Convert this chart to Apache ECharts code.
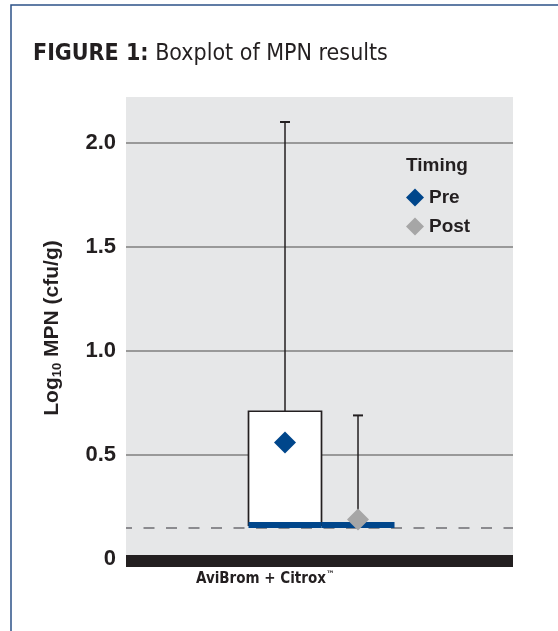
<!DOCTYPE html>
<html><head><meta charset="utf-8">
<script src="https://cdn.jsdelivr.net/npm/echarts@6/dist/echarts.min.js"></script>
<style>html,body{margin:0;padding:0;background:#fff}#c{width:558px;height:631px}</style>
</head><body><div id="c"></div>
<script>
// ---- data ----
const groups = ['Pre', 'Post'];
const categoryLabel = 'AviBrom + Citrox™';
// box statistics per group: [min, Q1, median, Q3, max]
const preStats = [0.163, 0.163, 0.163, 0.71, 2.10];
const postStats = [0.163, 0.163, 0.163, 0.163, 0.69];
const means = [0.56, 0.19];
const detectionLimit = 0.152;
const yTickStep = 0.5;

// ---- style ----
const INK = '#231f20';
const BLUE = '#00468b';
const GREY = '#a6a6a6';
const SANS = '"Liberation Sans", Arial, sans-serif';
const NARROW = '"Liberation Sans Narrow", "DejaVu Sans Condensed", "Liberation Sans", sans-serif';

const boxData = [preStats, postStats].map((s, i) => [i].concat(s));
const catRich = categoryLabel.split('™').map(p => p ? '{c|' + p + '}' : '').join('{tm|™}');

const chart = echarts.init(document.getElementById('c'), null, {renderer: 'canvas'});
chart.setOption({
  animation: false,
  backgroundColor: '#ffffff',
  grid: {left: 126, top: 97, width: 387, height: 462, show: true, backgroundColor: '#e6e7e8', borderWidth: 0},
  xAxis: {
    type: 'value', min: -2.178, max: 3.123,
    offset: 2,
    axisLine: {show: true, onZero: false, lineStyle: {color: INK, width: 12, cap: 'butt'}},
    axisTick: {show: false}, axisLabel: {show: false}, splitLine: {show: false}
  },
  yAxis: {
    type: 'value', min: 0, max: 2.22, interval: yTickStep,
    name: '{a|Log}{s|10}{a| MPN (cfu/g)}',
    nameLocation: 'middle', nameRotate: 90, nameGap: 62,
    nameTextStyle: {
      rich: {
        a: {fontFamily: SANS, fontWeight: 'bold', fontSize: 21, color: INK, lineHeight: 24},
        s: {fontFamily: SANS, fontWeight: 'bold', fontSize: 13, color: INK, lineHeight: 13, verticalAlign: 'bottom'}
      }
    },
    axisLine: {show: false}, axisTick: {show: false},
    axisLabel: {
      margin: 10, fontFamily: SANS, fontWeight: 'bold', fontSize: 22, color: INK,
      showMaxLabel: false,
      formatter: v => (Math.abs(v / yTickStep - Math.round(v / yTickStep)) > 1e-6) ? '' : (v === 0 ? '0' : v.toFixed(1))
    },
    splitLine: {show: true, showMinLine: false, showMaxLine: false, lineStyle: {color: '#7f7f7f', width: 1.5}}
  },
  legend: {
    data: groups, orient: 'vertical', left: 406, top: 188, padding: 0,
    itemWidth: 18, itemHeight: 18, itemGap: 10, icon: 'diamond',
    selectedMode: false,
    textStyle: {fontFamily: SANS, fontWeight: 'bold', fontSize: 19, color: INK}
  },
  series: [
    {
      type: 'custom', name: 'box', z: 2,
      data: boxData,
      encode: {x: 0, y: [1, 2, 3, 4, 5]},
      renderItem: (params, api) => {
        const i = api.value(0);
        const lo = api.value(1), q1 = api.value(2), med = api.value(3), q3 = api.value(4), hi = api.value(5);
        const half = api.size([1, 0])[0] * 0.5;
        const pLo = api.coord([i, lo]), pQ1 = api.coord([i, q1]), pMed = api.coord([i, med]);
        const pQ3 = api.coord([i, q3]), pHi = api.coord([i, hi]);
        const x = pQ1[0];
        const lineStyle = {stroke: INK, lineWidth: 1.5};
        const children = [
          {type: 'line', shape: {x1: x, y1: pQ3[1], x2: x, y2: pHi[1]}, style: lineStyle},
          {type: 'line', shape: {x1: x - 5, y1: pHi[1], x2: x + 5, y2: pHi[1]}, style: {stroke: INK, lineWidth: 2}},
          {type: 'line', shape: {x1: x, y1: pLo[1], x2: x, y2: pQ1[1]}, style: lineStyle}
        ];
        if (q3 > q1) {
          children.push({type: 'rect', shape: {x: x - half, y: pQ3[1], width: 2 * half, height: pQ1[1] - pQ3[1]},
            style: {fill: '#ffffff', stroke: INK, lineWidth: 1.7}});
        }
        children.push({type: 'rect', shape: {x: x - half, y: pMed[1] - 3, width: 2 * half, height: 6}, style: {fill: BLUE}});
        return {type: 'group', children};
      },
      markLine: {
        silent: true, symbol: 'none', z: 1,
        label: {show: false},
        lineStyle: {color: '#6d6e71', width: 1.5, type: [11, 11.5], dashOffset: 5},
        data: [{yAxis: detectionLimit}]
      }
    },
    {
      type: 'scatter', name: groups[0], z: 5, symbol: 'diamond', symbolSize: 22,
      itemStyle: {color: BLUE, opacity: 1},
      data: [[0, means[0]]]
    },
    {
      type: 'scatter', name: groups[1], z: 5, symbol: 'diamond', symbolSize: 22,
      itemStyle: {color: GREY, opacity: 1},
      data: [[1, means[1]]]
    }
  ],
  graphic: [
    {type: 'rect', silent: true, z: 0, shape: {x: 11, y: 5, width: 700, height: 800},
      style: {fill: 'none', stroke: '#2d5288', lineWidth: 1.5}},
    {type: 'text', silent: true, x: 33, y: 54,
      style: {text: '{b|FIGURE 1:}{r| Boxplot of MPN results}', verticalAlign: 'middle',
        rich: {
          b: {fontFamily: NARROW, fontWeight: 'bold', fontSize: 23, fill: INK},
          r: {fontFamily: NARROW, fontSize: 23, fill: INK}
        }}},
    {type: 'text', silent: true, x: 406, y: 166,
      style: {text: 'Timing', verticalAlign: 'middle', fontFamily: SANS, fontWeight: 'bold', fontSize: 19, fill: INK}},
    {type: 'text', silent: true, x: 265, y: 579,
      style: {text: catRich, align: 'center', verticalAlign: 'middle',
        rich: {
          c: {fontFamily: NARROW, fontWeight: 'bold', fontSize: 15, fill: INK, lineHeight: 18},
          tm: {fontFamily: NARROW, fontWeight: 'bold', fontSize: 9, fill: INK, lineHeight: 9, verticalAlign: 'top'}
        }}}
  ]
});
</script>
</body></html>
